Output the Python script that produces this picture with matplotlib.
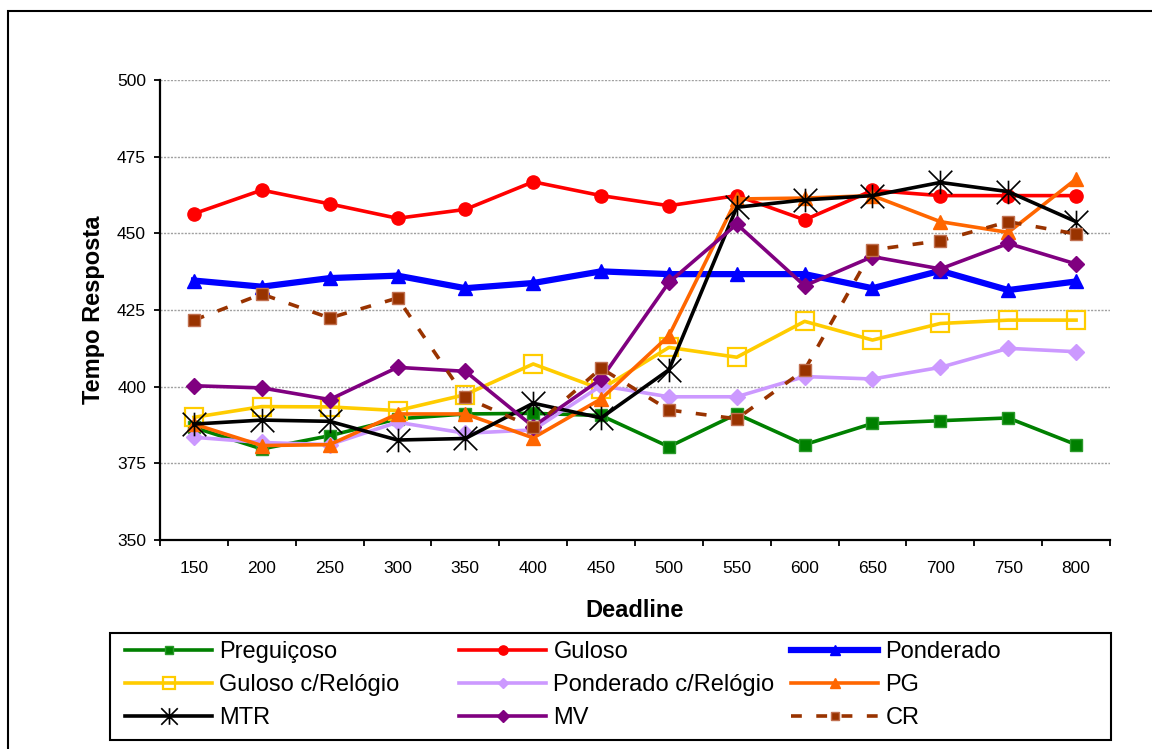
import numpy as np
import matplotlib
matplotlib.use("Agg")
import matplotlib.pyplot as plt
from matplotlib.path import Path
from matplotlib.patches import Rectangle

plt.rcParams["font.family"] = ["Liberation Sans", "DejaVu Sans"]

# -- data --
deadlines = ["150", "200", "250", "300", "350", "400", "450",
             "500", "550", "600", "650", "700", "750", "800"]

preguicoso = [386.7, 379.7, 384.0, 389.5, 391.1, 391.3, 390.6,
              380.4, 391.1, 381.1, 388.0, 388.9, 389.8, 381.1]
guloso = [456.4, 464.1, 459.6, 454.9, 457.8, 466.8, 462.3,
          459.0, 462.3, 454.4, 464.0, 462.3, 462.3, 462.3]
ponderado = [434.6, 432.6, 435.4, 436.2, 432.1, 433.8, 437.6,
             436.7, 436.7, 436.7, 432.1, 437.8, 431.5, 434.3]
guloso_rel = [390.0, 393.5, 393.4, 392.2, 397.4, 407.4, 399.2,
              412.8, 409.6, 421.3, 415.2, 420.6, 421.7, 421.7]
ponderado_rel = [383.5, 381.8, 381.1, 388.4, 384.8, 385.9, 400.3,
                 396.7, 396.7, 403.3, 402.5, 406.3, 412.5, 411.4]
pg = [387.8, 380.8, 381.1, 391.1, 391.1, 383.3, 396.0,
      416.6, 461.2, 461.5, 462.3, 453.8, 450.3, 467.7]
mtr = [387.8, 389.1, 388.7, 382.6, 383.1, 394.6, 389.8,
       405.5, 458.5, 460.9, 462.3, 466.6, 463.6, 453.8]
mv = [400.3, 399.6, 395.8, 406.3, 405.0, 387.0, 402.5,
      434.0, 453.0, 432.9, 442.4, 438.4, 446.7, 440.0]
cr = [421.7, 430.2, 422.4, 428.9, 396.5, 386.7, 406.0,
      392.4, 389.5, 405.5, 444.6, 447.6, 453.8, 449.8]

# star marker like Excel's (X plus vertical bar)
star = Path([(0, -1), (0, 1), (-1, -1), (1, 1), (-1, 1), (1, -1)],
            [Path.MOVETO, Path.LINETO] * 3)

series = [
    ("Preguiçoso", preguicoso, dict(color="#008000", lw=2.6, marker="s", ms=8,
                                    mfc="#008000", mec="#2a9a2a")),
    ("Guloso", guloso, dict(color="#FF0000", lw=2.6, marker="o", ms=9.5)),
    ("Ponderado", ponderado, dict(color="#0000FF", lw=4.5, marker="^", ms=10)),
    ("Guloso c/Relógio", guloso_rel, dict(color="#FFCC00", lw=2.6, marker="s", ms=13,
                                          mfc="none", mec="#FFCC00", mew=1.6)),
    ("Ponderado c/Relógio", ponderado_rel, dict(color="#CC99FF", lw=2.6, marker="D", ms=8)),
    ("PG", pg, dict(color="#FF6600", lw=2.6, marker="^", ms=10)),
    ("MTR", mtr, dict(color="black", lw=2.6, marker=star, ms=17, mew=1.2)),
    ("MV", mv, dict(color="#800080", lw=2.6, marker="D", ms=8.5)),
    ("CR", cr, dict(color="#993300", lw=2.6, ls=(0, (3, 4)), marker="s", ms=9,
                    mfc="#993300", mec="#c07050")),
]

W, H = 1152, 749
fig = plt.figure(figsize=(W / 100, H / 100), dpi=100)
ax = fig.add_axes([160 / W, 1 - 540 / H, 950 / W, 460 / H])

x = np.arange(len(deadlines))
handles = []
for name, vals, kw in series:
    h, = ax.plot(x, vals, label=name, **kw)
    handles.append(h)

ax.set_xlim(-0.5, len(deadlines) - 0.5)
ax.set_ylim(350, 500)
ax.set_yticks(np.arange(350, 501, 25))
ax.set_xticks(x)
ax.set_xticklabels(deadlines)
ax.set_xticks(np.arange(-0.5, len(deadlines)), minor=True)
ax.tick_params(axis="x", which="major", length=0, pad=15, labelsize=12.5)
ax.tick_params(axis="x", which="minor", length=4, width=1.3, direction="out")
ax.tick_params(axis="y", length=4, width=1.3, direction="out", pad=6, labelsize=12.5)

for yv in range(375, 501, 25):
    ax.axhline(yv, color="#a0a0a0", lw=1, ls=(0, (1.5, 1)), zorder=0)

for side in ("top", "right"):
    ax.spines[side].set_visible(False)
for side in ("left", "bottom"):
    ax.spines[side].set_linewidth(1.6)

ax.set_xlabel("Deadline", fontsize=17, fontweight="bold", labelpad=17)
ax.set_ylabel("Tempo Resposta", fontsize=17, fontweight="bold", labelpad=9)

# legend: three frameless columns inside one box
col_x = [125, 459, 791]
for c in range(3):
    col_handles = handles[c::3]
    fig.legend(col_handles, [h.get_label() for h in col_handles],
               loc="upper left", bbox_to_anchor=(col_x[c] / W, 1 - 641 / H),
               bbox_transform=fig.transFigure, frameon=False, borderpad=0,
               borderaxespad=0, fontsize=17, handlelength=3.7, handletextpad=0.3,
               labelspacing=0.47, markerscale=0.7)
fig.add_artist(Rectangle((110 / W, 1 - 740 / H), 1001 / W, 107 / H,
                         transform=fig.transFigure, fill=False, lw=1.5, ec="black"))

# outer chart border
fig.add_artist(Rectangle((8 / W, -0.1), 1.2, 1.1 - 11 / H,
                         transform=fig.transFigure, fill=False, lw=1.5, ec="black"))

fig.savefig("out.png", dpi=100)
